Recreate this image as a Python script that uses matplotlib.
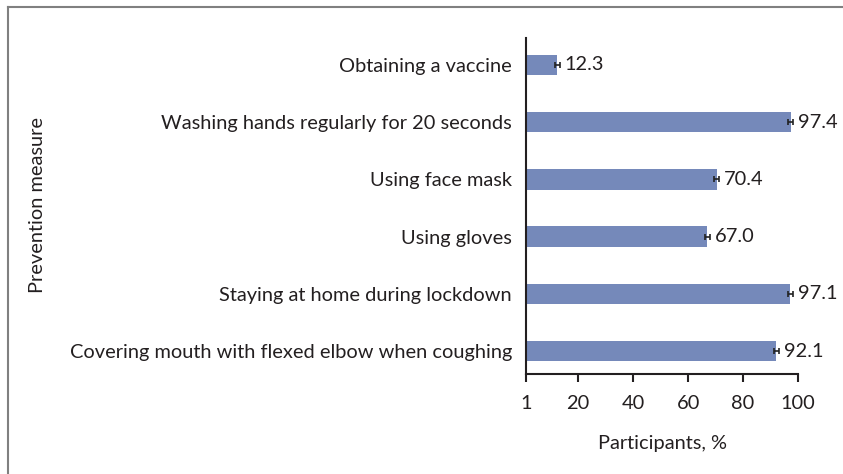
import matplotlib.pyplot as plt
from matplotlib.lines import Line2D

measures = ['Obtaining a vaccine',
            'Washing hands regularly for 20 seconds',
            'Using face mask',
            'Using gloves',
            'Staying at home during lockdown',
            'Covering mouth with flexed elbow when coughing']
percent = [12.3, 97.4, 70.4, 67.0, 97.1, 92.1]
err = [0.9, 0.9, 0.9, 0.9, 0.9, 0.9]
xticks = [1, 20, 40, 60, 80, 100]

plt.rcParams['font.family'] = ['Lato', 'DejaVu Sans']
FS = 14.4
TXT = '#231f20'

fig = plt.figure(figsize=(8.43, 4.74), dpi=100)
ax = fig.add_axes([526 / 843, 1 - 374 / 474, (798 - 526) / 843, (374 - 38) / 474])

pos = list(range(len(measures)))
ax.barh(pos, percent, height=0.36, color='#7589BA', zorder=2)
ax.errorbar(percent, pos, xerr=err, fmt='none', ecolor='#222222',
            elinewidth=1.2, capsize=2.5, capthick=1.2, zorder=3)
for p, v in zip(pos, percent):
    ax.annotate(f'{v:.1f}', (v, p), xytext=(5.5, 0), textcoords='offset points',
                va='center', ha='left', fontsize=FS, color=TXT)

ax.set_xlim(1, 100)
ax.set_ylim(5.40, -0.47)
ax.set_xticks(xticks)
ax.set_yticks(pos)
ax.set_yticklabels(measures)
ax.tick_params(axis='y', length=0, pad=10, labelsize=FS, labelcolor=TXT)
ax.tick_params(axis='x', length=6, width=1.5, direction='out', pad=9,
               labelsize=FS, labelcolor=TXT, color=TXT)
for s in ['top', 'right']:
    ax.spines[s].set_visible(False)
for s in ['left', 'bottom']:
    ax.spines[s].set_linewidth(1.5)
    ax.spines[s].set_color(TXT)

ax.set_xlabel('Participants, %', fontsize=FS, color=TXT, labelpad=17)
fig.text(38 / 843, 1 - 205 / 474, 'Prevention measure', rotation=90,
         ha='center', va='center', fontsize=FS, color=TXT)

# frame around the figure (top and left edges visible)
fig.add_artist(Line2D([8 / 843, 1.0], [1 - 7 / 474, 1 - 7 / 474], color='#808080', lw=1.5))
fig.add_artist(Line2D([8 / 843, 8 / 843], [0.0, 1 - 7 / 474], color='#808080', lw=1.5))

fig.savefig('out.png', dpi=100)
